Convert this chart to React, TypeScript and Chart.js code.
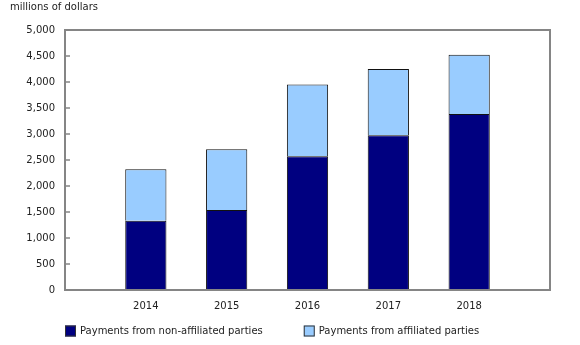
import React, { useEffect, useRef } from "react";
import { Chart, registerables } from "chart.js";

Chart.register(...registerables);

const years = ["2014", "2015", "2016", "2017", "2018"];
const nonAffiliated = [1330, 1540, 2570, 2975, 3385];
const affiliated = [990, 1165, 1380, 1275, 1140];
const seriesNames = ["Payments from non-affiliated parties", "Payments from affiliated parties"];
const unitLabel = "millions of dollars";
const yMax = 5000;
const yStep = 500;

const FONT = "DejaVu Sans, Verdana, sans-serif";
const AXIS_GRAY = "#858585";

const decorPlugin = {
  id: "decor",
  afterDraw(chart: any) {
    const { ctx, chartArea } = chart;
    const yScale = chart.scales.y;
    ctx.save();
    // frame
    ctx.strokeStyle = AXIS_GRAY;
    ctx.lineWidth = 2;
    ctx.strokeRect(chartArea.left, chartArea.top, chartArea.right - chartArea.left, chartArea.bottom - chartArea.top);
    // inner y ticks
    ctx.lineWidth = 1.5;
    yScale.ticks.forEach((t: any) => {
      const y = yScale.getPixelForValue(t.value);
      ctx.beginPath();
      ctx.moveTo(chartArea.left, y);
      ctx.lineTo(chartArea.left + 5, y);
      ctx.stroke();
    });
    // unit label
    ctx.fillStyle = "#222";
    ctx.font = `10px ${FONT}`;
    ctx.textAlign = "left";
    ctx.textBaseline = "middle";
    ctx.fillText(unitLabel, 10, 7);
    // legend
    const ly = 331;
    let x = chartArea.left;
    chart.data.datasets.forEach((ds: any) => {
      ctx.fillStyle = ds.backgroundColor;
      ctx.fillRect(x, ly - 5.5, 11, 11);
      ctx.strokeStyle = "#333";
      ctx.lineWidth = 1;
      ctx.strokeRect(x + 0.5, ly - 5, 10, 10);
      ctx.fillStyle = "#222";
      ctx.fillText(ds.label, x + 15, ly);
      x += 15 + ctx.measureText(ds.label).width + 41;
    });
    ctx.restore();
  },
};

export default function App() {
  const ref = useRef<HTMLCanvasElement>(null);
  useEffect(() => {
    if (!ref.current) return;
    const labels = ["", ...years, ""];
    const chart = new Chart(ref.current, {
      type: "bar",
      data: {
        labels,
        datasets: [
          {
            label: seriesNames[0],
            data: [null, ...nonAffiliated, null],
            backgroundColor: "#000080",
            borderColor: "#111",
            borderWidth: 1,
          },
          {
            label: seriesNames[1],
            data: [null, ...affiliated, null],
            backgroundColor: "#99CCFF",
            borderColor: "#111",
            borderWidth: 1,
          },
        ],
      },
      options: {
        responsive: false,
        animation: false,
        categoryPercentage: 0.51,
        barPercentage: 1,
        layout: { padding: { left: 0, right: 30, top: 30, bottom: 0 } },
        plugins: { legend: { display: false }, tooltip: { enabled: false } },
        scales: {
          x: {
            stacked: true,
            offset: false,
            grid: { display: false, drawTicks: false },
            border: { display: false },
            ticks: { color: "#222", font: { family: FONT, size: 10 }, padding: 10, maxRotation: 0, autoSkip: false },
            afterFit: (s: any) => { s.height = 55; },
          },
          y: {
            stacked: true,
            min: 0,
            max: yMax,
            grid: { display: false, drawTicks: false },
            border: { display: false },
            ticks: {
              stepSize: yStep,
              color: "#222",
              font: { family: FONT, size: 10 },
              padding: 10,
              callback: (v: any) => Number(v).toLocaleString("en-US"),
            },
            afterFit: (s: any) => { s.width = 65; },
          },
        },
      },
      plugins: [decorPlugin],
    } as any);
    return () => chart.destroy();
  }, []);
  return (
    <div style={{ position: "absolute", left: 0, top: 0, width: 580, height: 345, background: "#fff" }}>
      <canvas ref={ref} width={580} height={345} style={{ display: "block" }} />
    </div>
  );
}
